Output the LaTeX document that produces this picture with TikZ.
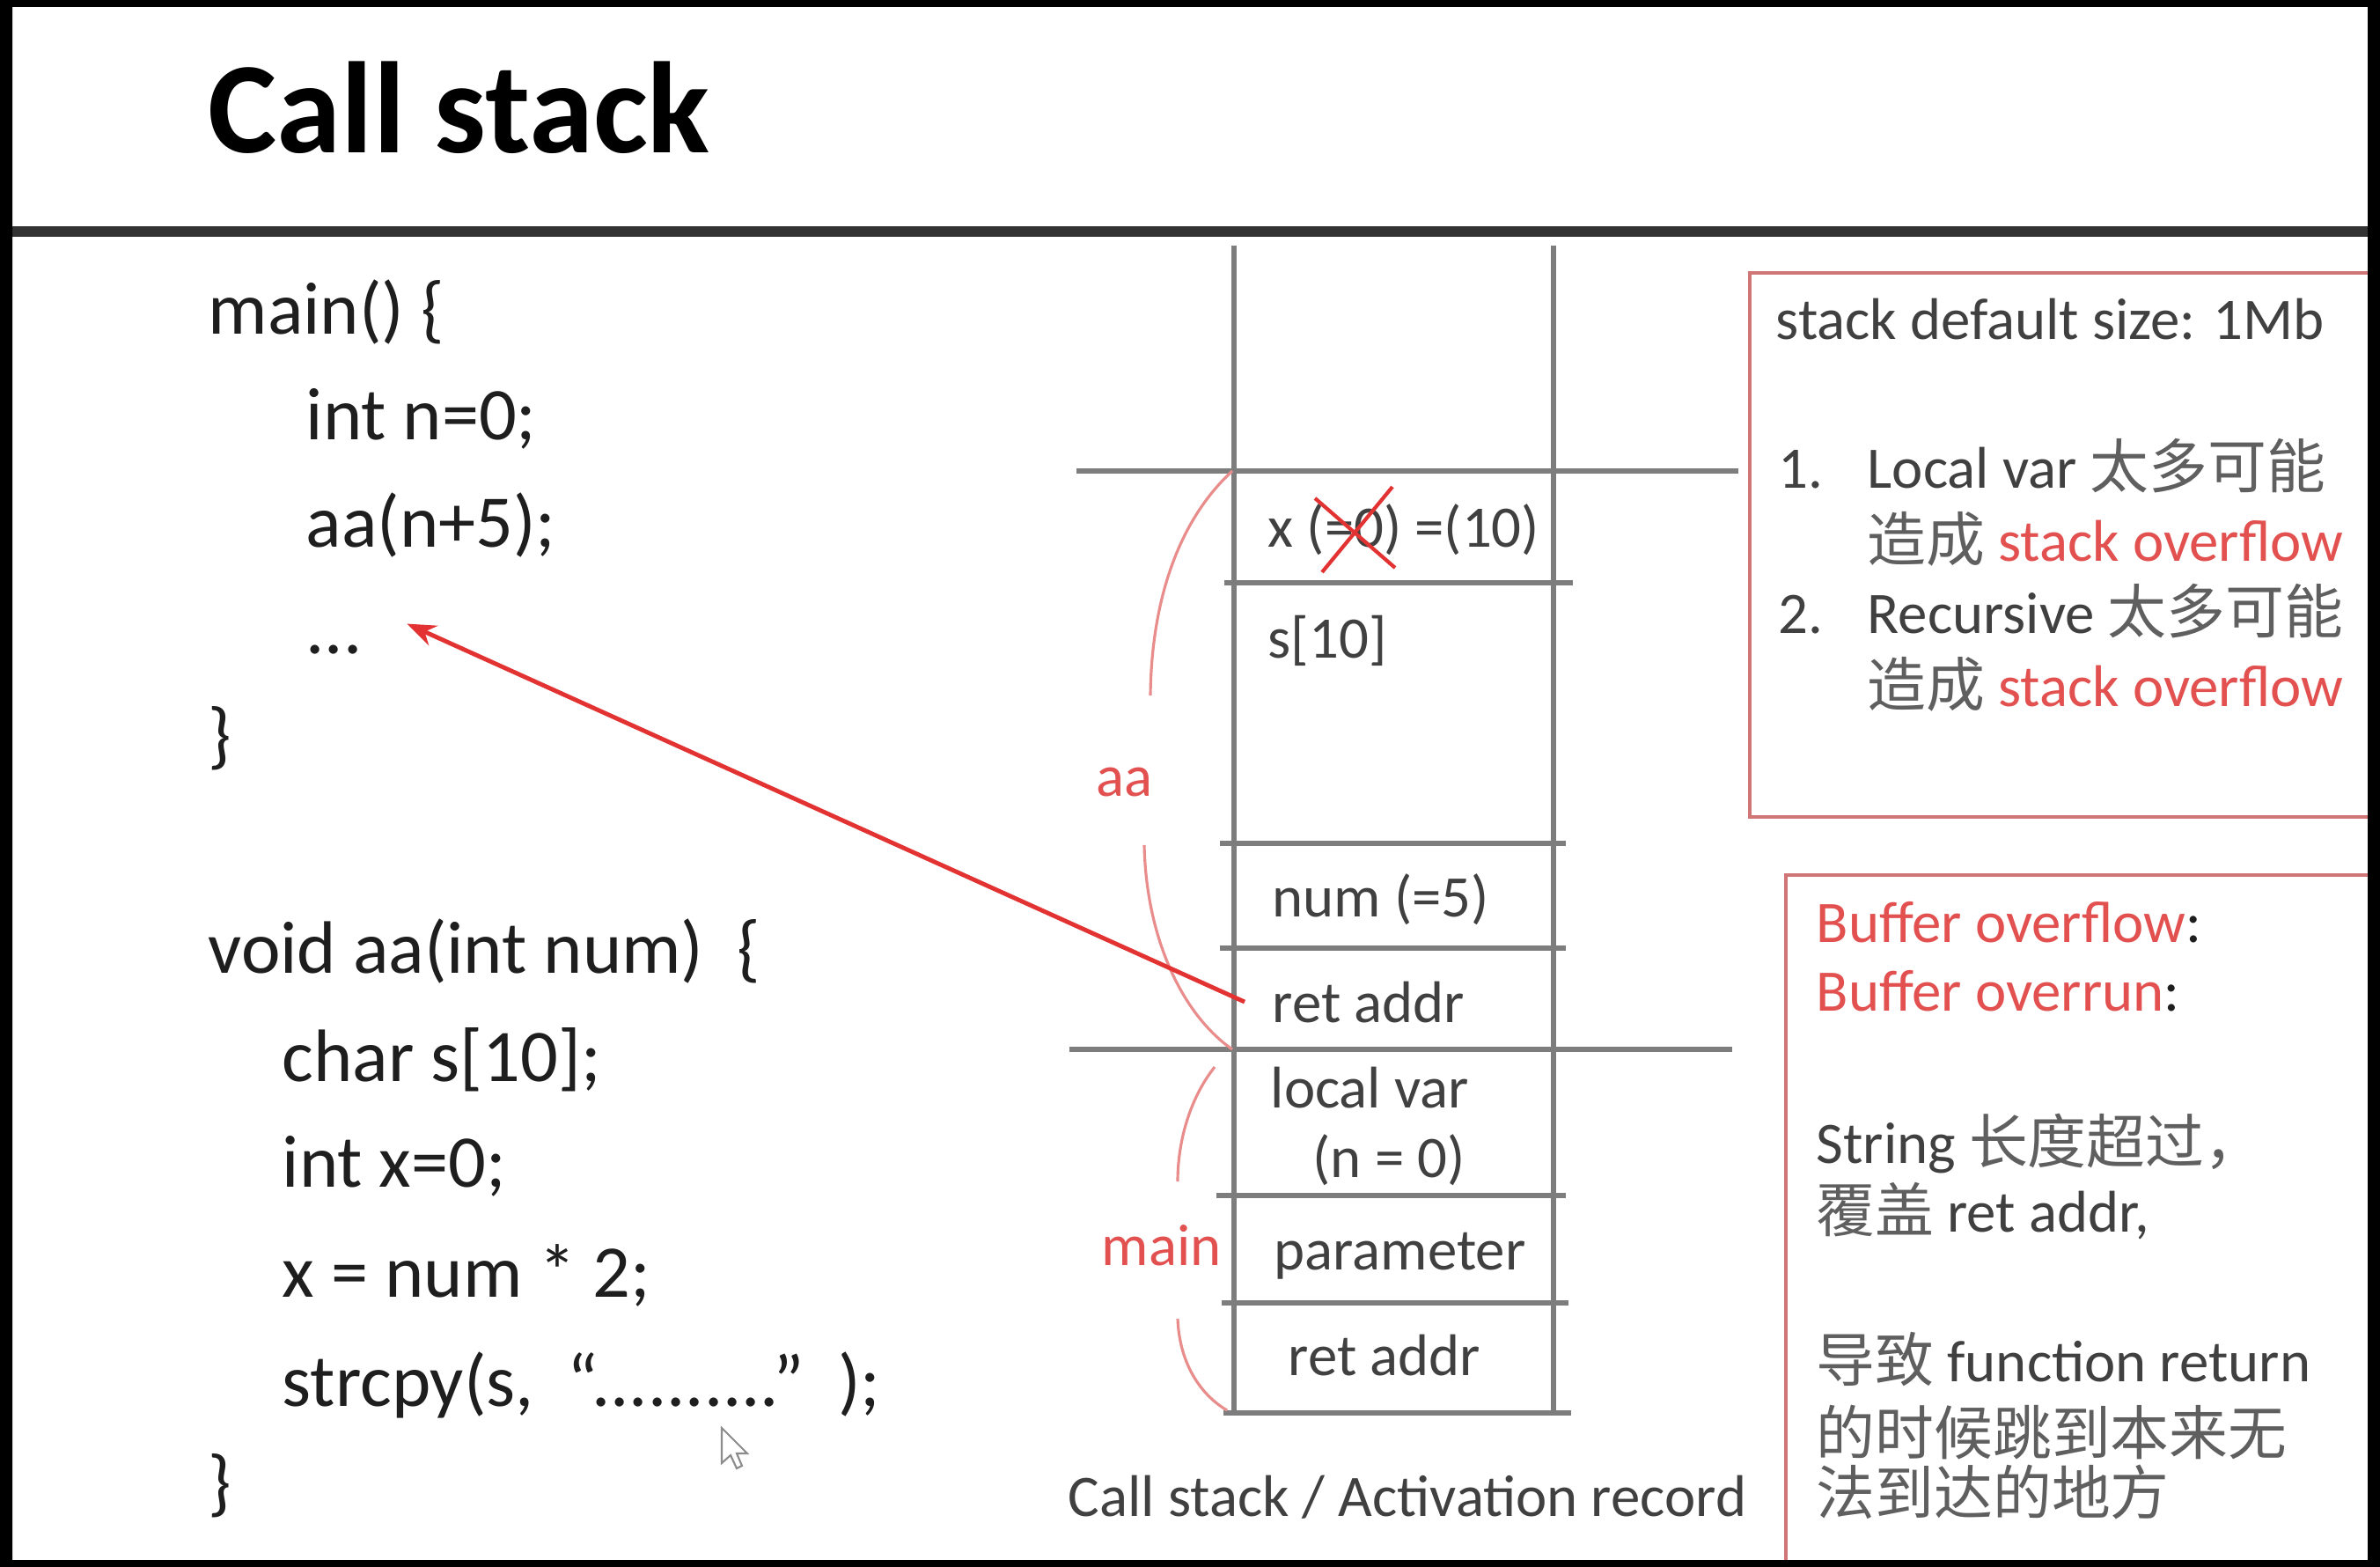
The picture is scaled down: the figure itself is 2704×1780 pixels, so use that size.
\documentclass[tikz,border=0pt]{standalone}
\usepackage{fontspec}
\setmainfont{Carlito}
\newfontfamily\cjk{Noto Sans CJK SC}
\usepackage{tikz}
\usetikzlibrary{calc, arrows.meta}
\definecolor{ink}{RGB}{30,30,30}
\definecolor{cellgray}{RGB}{125,125,125}
\definecolor{hotred}{RGB}{226,50,50}
\definecolor{txtred}{RGB}{226,80,80}
\definecolor{softred}{RGB}{232,140,140}
\definecolor{boxred}{RGB}{208,118,118}
\definecolor{zhgray}{RGB}{95,95,95}
\newcommand{\zh}[1]{{\cjk\color{zhgray}#1}}

\begin{document}
\begin{tikzpicture}[x=0.01cm, y=-0.01cm, >=Stealth,
  code/.style={anchor=base west, inner sep=0pt, font=\fontsize{24}{28}\selectfont, text=ink},
  cell/.style={anchor=base west, inner sep=0pt, font=\fontsize{19}{23}\selectfont, text=ink!85},
  note/.style={anchor=base west, inner sep=0pt, font=\fontsize{19}{23}\selectfont, text=ink!85},
  rline/.style={line width=1.7pt, cellgray},
  brk/.style={softred, line width=0.9pt}]
  \useasboundingbox (0,0) rectangle (2704,1780);
  \fill[white] (0,0) rectangle (2704,1780);

  % Title
  \node[anchor=base west, inner sep=0pt, font=\fontsize{42}{48}\selectfont\bfseries] (title) at (236,174) {Call stack};
  \draw[line width=3.6pt, black!80] (14,263) -- (2690,263);

  % Code
  \node[code] (m1) at (236,380) {main() \{};
  \node[code] (m2) at (347,500) {int n=0;};
  \node[code] (m3) at (347,622) {aa(n+5);};
  \node[code] (dots) at (347,743) {...};
  \node[code] (m5) at (236,864) {\}};
  \node[code] (a1) at (236,1105) {void aa(int num)\ \ \{};
  \node[code] (a2) at (320,1228) {char s[10];};
  \node[code] (a3) at (320,1348) {int x=0;};
  \node[code] (a4) at (320,1473) {x = num * 2;};
  \node[code] (a5) at (320,1597) {strcpy(s,\ \ “..........”\ \ );};
  \node[code] (a6) at (236,1712) {\}};

  % Mouse pointer
  \draw[black!45, fill=white, line width=0.6pt] (820,1622) -- (820,1662) -- (830,1653) -- (837,1668)
    -- (843,1665) -- (837,1651) -- (849,1651) -- cycle;

  % Stack frame
  \draw[rline] (1402,279) -- (1402,1605);
  \draw[rline] (1765,279) -- (1765,1605);
  \foreach \y/\xa/\xb in {535/1223/1975, 662/1391/1787, 958/1386/1779, 1077/1386/1779,
                          1192/1215/1968, 1358/1382/1779, 1480/1388/1782, 1605/1390/1785}
    \draw[rline] (\xa,\y) -- (\xb,\y);

  \node[cell] (xval) at (1440,622) {x (=0) =(10)};
  \node[cell] (sbuf) at (1440,748) {s[10]};
  \node[cell] (num) at (1445,1041) {num (=5)};
  \node[cell] (retaa) at (1445,1161) {ret addr};
  \node[cell] (lvar) at (1443,1258) {local var};
  \node[cell] (nval) at (1491,1337) {(n = 0)};
  \node[cell] (param) at (1447,1442) {parameter};
  \node[cell] (retmain) at (1463,1562) {ret addr};
  \node[cell] (stkcap) at (1213,1722) {Call stack / Activation record};

  % crossed out value
  \draw[hotred, line width=1.2pt] (1494,566) -- (1585,645) (1502,650) -- (1582,553);

  % Frame brackets
  \node[cell, text=txtred] (aalbl) at (1245,905) {aa};
  \node[cell, text=txtred] (mainlbl) at (1251,1437) {main};
  \draw[brk] (1400,535) .. controls (1335,595) and (1308,690) .. (1307,790);
  \draw[brk] (1300,960) .. controls (1302,1060) and (1340,1150) .. (1400,1192);
  \draw[brk] (1380,1212) .. controls (1350,1250) and (1338,1300) .. (1338,1342);
  \draw[brk] (1338,1498) .. controls (1340,1550) and (1365,1585) .. (1394,1602);

  % Return address
  \draw[->, hotred, line width=1.4pt] ($(retaa.west)+(-31,0)$) -- ($(dots.east)+(50,-30)$);

  % Stack size notes
  \draw[boxred, line width=1.1pt] (2690,310) -- (1988,310) -- (1988,928) -- (2690,928);
  \node[note] (n0) at (2017,386) {stack default size: 1Mb};
  \node[note] (n1) at (2020,555) {1.};
  \node[note] (n1a) at (2121,555) {Local var \zh{太多可能}};
  \node[note] (n1b) at (2121,638) {\zh{造成} \textcolor{txtred}{stack overflow}};
  \node[note] (n2) at (2020,720) {2.};
  \node[note] (n2a) at (2121,720) {Recursive \zh{太多可能}};
  \node[note] (n2b) at (2121,803) {\zh{造成} \textcolor{txtred}{stack overflow}};

  % Buffer overflow notes
  \draw[boxred, line width=1.1pt] (2690,994) -- (2029,994) -- (2029,1772);
  \node[note, text=txtred] (b1) at (2063,1070) {Buffer overflow\textcolor{ink}{:}};
  \node[note, text=txtred] (b2) at (2063,1148) {Buffer overrun\textcolor{ink}{:}};
  \node[note] (b3) at (2063,1321) {String \zh{长度超过，}};
  \node[note] (b4) at (2063,1399) {\zh{覆盖} ret addr,};
  \node[note] (b5) at (2063,1569) {\zh{导致} function return};
  \node[note] (b6) at (2063,1652) {\zh{的时候跳到本来无}};
  \node[note] (b7) at (2063,1720) {\zh{法到达的地方}};

  % Slide border
  \fill[black, even odd rule] (0,0) rectangle (2704,1780) (14,8) rectangle (2690,1772);
\end{tikzpicture}
\end{document}
